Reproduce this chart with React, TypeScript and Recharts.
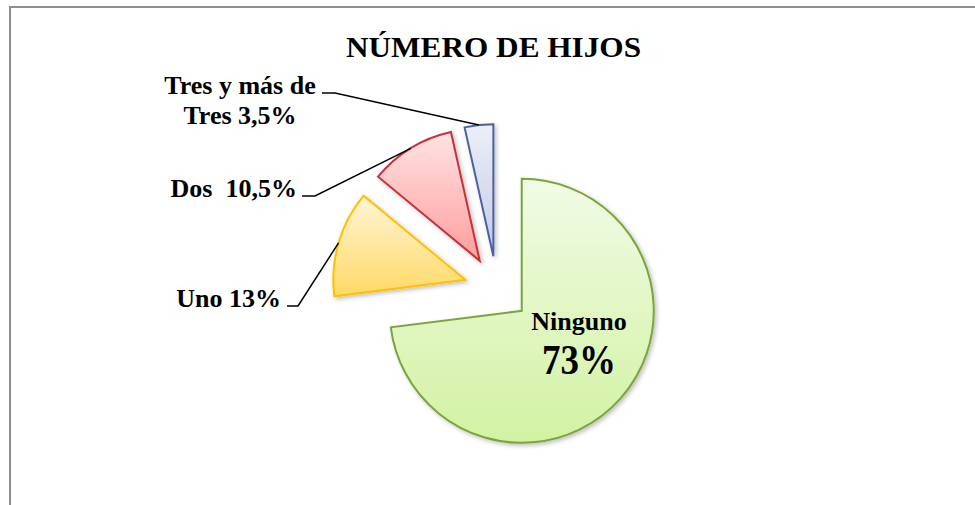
import React from 'react';
import { PieChart, Pie, Cell } from 'recharts';

// chart data
const categories = ['Ninguno', 'Uno', 'Dos', 'Tres y más de Tres'];
const values = [73, 13, 10.5, 3.5];
const labelTexts = [['Ninguno', '73%'], ['Uno 13%'], ['Dos  10,5%'], ['Tres y más de', 'Tres 3,5%']];

const GRADIENTS = [
  ['#f1fbe6', '#d2f2a2'], // green
  ['#fff5d6', '#ffd966'], // yellow
  ['#ffe3e3', '#ff9d9d'], // red
  ['#eceff7', '#c3cae5'], // blue
];
const STROKES = ['#7aa53c', '#ffc000', '#c6323b', '#4a62a0'];

const W = 975;
const H = 505;
const CX = 497;
const CY = 289;
const R = 132;
const EXPLODE = 33;
const FONT = '"Liberation Serif", "Times New Roman", serif';

// where each label sits (text anchor + elbow of the leader line)
const LABEL_LAYOUT: any[] = [
  { x: 579, ys: [330, 374], sizes: [26, 42], lens: [0, 74], anchor: 'middle' },
  { x: 281, ys: [307], sizes: [26], lens: [0], anchor: 'end', elbow: [[287, 306], [298, 306]] },
  { x: 297, ys: [197], sizes: [26], lens: [0], anchor: 'end', elbow: [[302, 196], [315, 196]] },
  { x: 240, ys: [94, 124], sizes: [26, 26], lens: [0, 0], anchor: 'middle', elbow: [[322, 93], [335, 93]] },
];

const data = categories.map((name, i) => ({ name, value: values[i] }));
const total = values.reduce((a, b) => a + b, 0);

// mid angle of each slice, clockwise from 12 o'clock
const midAngles = values.map((v, i) => {
  const before = values.slice(0, i).reduce((a, b) => a + b, 0);
  return ((before + v / 2) / total) * 360;
});

const makeLabel = (slice: number) => (props: any) => {
  if (props.index !== slice) return <g />;
  const lay = LABEL_LAYOUT[slice];
  const RAD = Math.PI / 180;
  const px = props.cx + props.outerRadius * Math.cos(-props.midAngle * RAD);
  const py = props.cy + props.outerRadius * Math.sin(-props.midAngle * RAD);
  return (
    <g>
      {lay.elbow && (
        <polyline
          points={`${lay.elbow[0][0]},${lay.elbow[0][1]} ${lay.elbow[1][0]},${lay.elbow[1][1]} ${px},${py}`}
          fill="none"
          stroke="#000"
          strokeWidth={1.5}
        />
      )}
      {labelTexts[slice].map((t, k) => (
        <text
          key={k}
          x={lay.x}
          y={lay.ys[k]}
          textAnchor={lay.anchor}
          fontFamily={FONT}
          fontWeight="bold"
          fontSize={lay.sizes[k]}
          fill="#000"
          style={{ whiteSpace: 'pre' }}
          {...(lay.lens[k] ? { textLength: lay.lens[k], lengthAdjust: 'spacingAndGlyphs' } : {})}
        >
          {t}
        </text>
      ))}
    </g>
  );
};

export default function App() {
  return (
    <div style={{ position: 'absolute', left: 0, top: 0, width: W, height: H, background: '#fff' }}>
      <svg width={0} height={0} style={{ position: 'absolute' }}>
        <defs>
          {GRADIENTS.map((g, i) => (
            <linearGradient key={i} id={`grad${i}`} x1="0" y1="0" x2="0" y2="1">
              <stop offset="0%" stopColor={g[0]} />
              <stop offset="100%" stopColor={g[1]} />
            </linearGradient>
          ))}
          <filter id="shadow" x="-20%" y="-20%" width="140%" height="140%">
            <feDropShadow dx="2" dy="2" stdDeviation="2" floodColor="#000" floodOpacity="0.25" />
          </filter>
        </defs>
      </svg>

      {/* frame */}
      <div
        style={{
          position: 'absolute',
          left: 9,
          top: 6,
          width: W,
          height: H,
          borderTop: '2px solid #8f8f8f',
          borderLeft: '2px solid #8f8f8f',
        }}
      />

      <svg width={W} height={70} style={{ position: 'absolute', left: 0, top: 0 }}>
        <text
          x={346}
          y={57}
          fontFamily={FONT}
          fontWeight="bold"
          fontSize={30}
          textLength={295}
          lengthAdjust="spacingAndGlyphs"
          fill="#000"
        >
          NÚMERO DE HIJOS
        </text>
      </svg>

      <div style={{ position: 'absolute', left: 0, top: 0 }}>
        <PieChart width={W} height={H} margin={{ top: 0, right: 0, bottom: 0, left: 0 }}>
          {midAngles.map((mid, i) => {
            const dx = EXPLODE * Math.sin((mid * Math.PI) / 180);
            const dy = -EXPLODE * Math.cos((mid * Math.PI) / 180);
            return (
              <Pie
                key={i}
                data={data}
                dataKey="value"
                nameKey="name"
                cx={CX + dx}
                cy={CY + dy}
                innerRadius={0}
                outerRadius={R}
                startAngle={90}
                endAngle={-270}
                isAnimationActive={false}
                labelLine={false}
                label={makeLabel(i)}
              >
                {data.map((_, j) =>
                  j === i ? (
                    <Cell
                      key={j}
                      fill={`url(#grad${i})`}
                      stroke={STROKES[i]}
                      strokeWidth={2}
                      filter="url(#shadow)"
                    />
                  ) : (
                    <Cell key={j} fill="none" stroke="none" />
                  )
                )}
              </Pie>
            );
          })}
        </PieChart>
      </div>
    </div>
  );
}
